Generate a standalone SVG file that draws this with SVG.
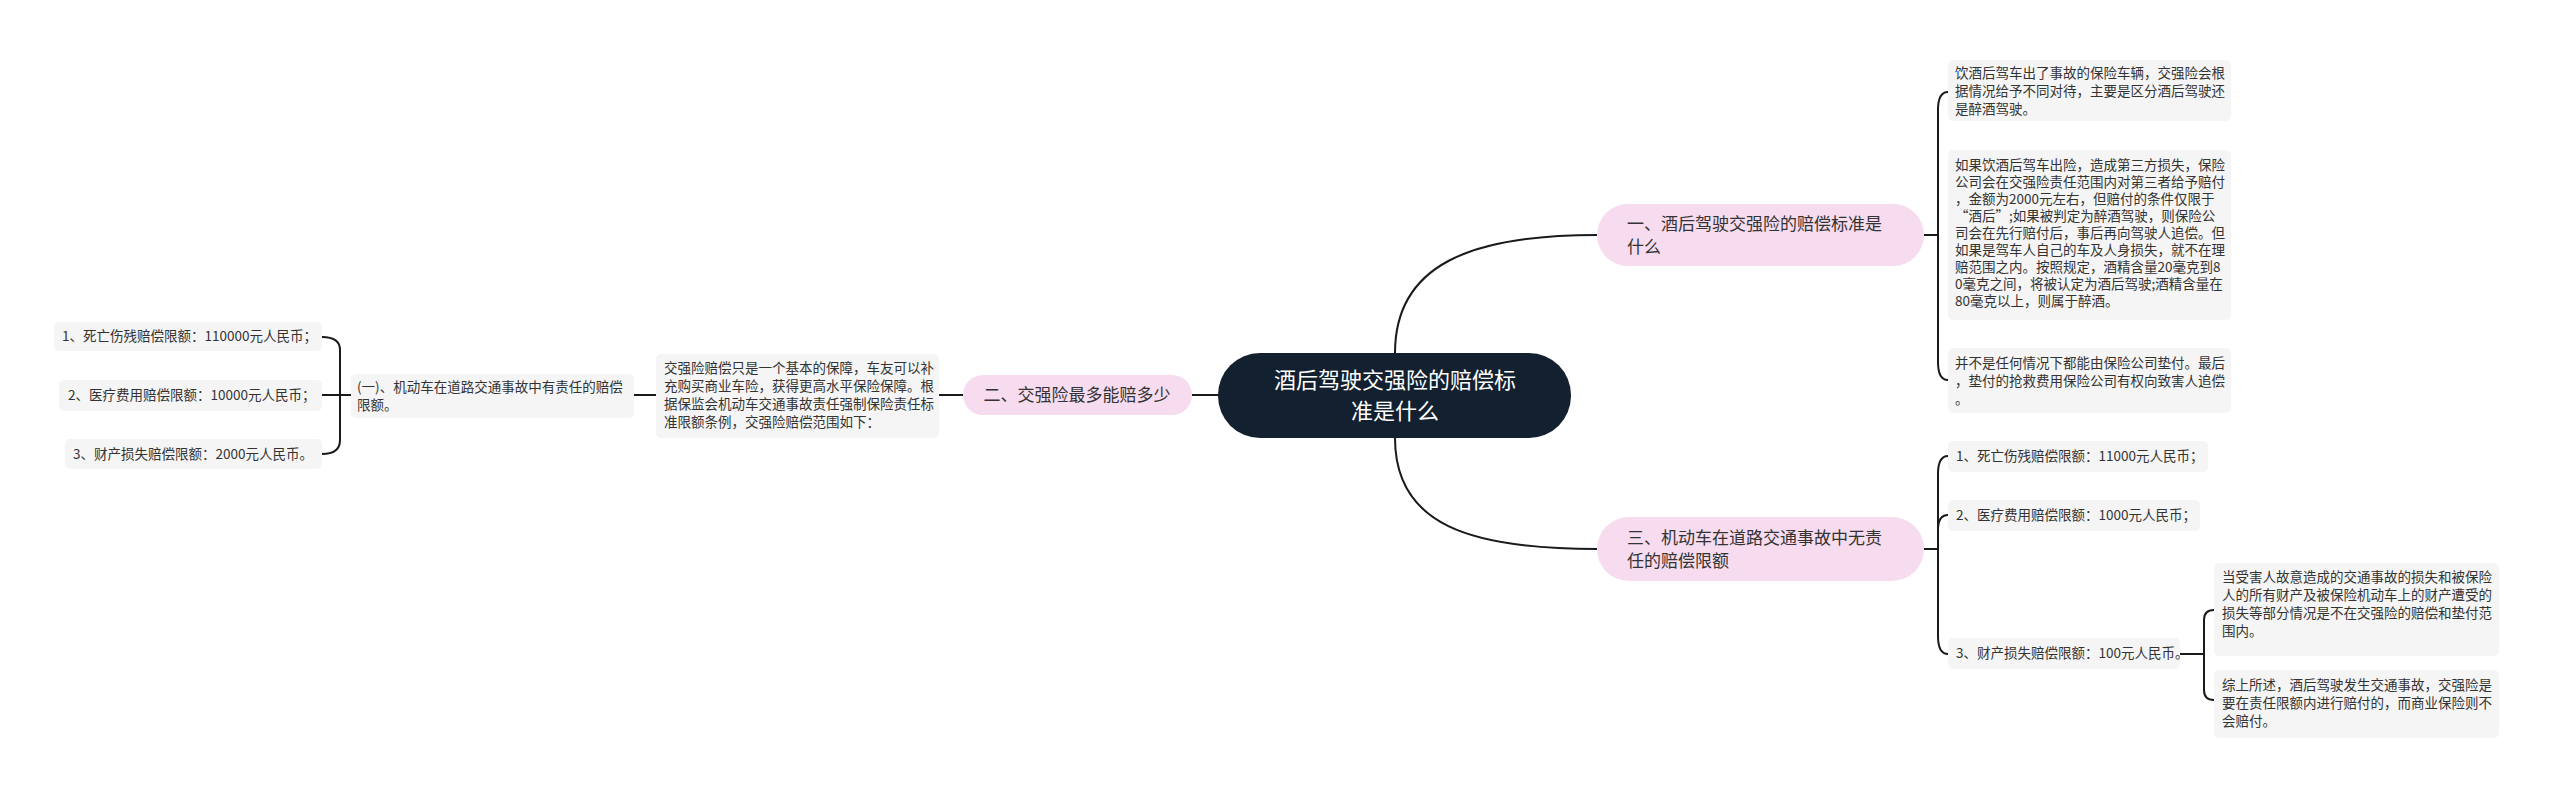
<svg xmlns="http://www.w3.org/2000/svg" width="2560" height="794" viewBox="0 0 2560 794">
<style>
text{font-family:"Noto Sans CJK SC","Liberation Sans",sans-serif;fill:#333}
.leaf{fill:#f5f5f5}
.br{fill:#f7dcef}
.t{font-size:13.5px}
.b{font-size:17px}
.c{fill:none;stroke:#1a1a1a;stroke-width:2}
</style>
<rect width="2560" height="794" fill="#fff"/>
<g id="connectors">
<path class="c" d="M1395,353 C1395,265 1470,235 1597,235"/>
<path class="c" d="M1395,438 C1395,525 1470,549 1597,549"/>
<path class="c" d="M1218,395 H1192"/>
<path class="c" d="M963,395 H939"/>
<path class="c" d="M656,395 H634"/>
<path class="c" d="M351,395 H340 M322,337 Q340,337 340,350 V440 Q340,454 322,454"/>
<path class="c" d="M322,395 H340"/>
<path class="c" d="M1924,235 H1938 M1948,92 Q1938,92 1938,110 V362 Q1938,380 1948,380"/>
<path class="c" d="M1924,549 H1938 M1948,456 Q1938,456 1938,474 V636 Q1938,654 1948,654 M1948,515 Q1938,515 1938,530"/>
<path class="c" d="M2180,654 H2204 M2214,610 Q2204,610 2204,620 V690 Q2204,700 2214,700"/>
</g>
<g id="root">
<rect x="1218" y="353" width="353" height="85" rx="42" fill="#13202f"/>
<text x="1395" y="388" text-anchor="middle" font-size="22" style="fill:#fff">酒后驾驶交强险的赔偿标</text>
<text x="1395" y="419" text-anchor="middle" font-size="22" style="fill:#fff">准是什么</text>
</g>
<g id="b1"><rect class="br" x="1597" y="204" width="327" height="62" rx="31"/>
<text class="b" x="1627" y="230">一、酒后驾驶交强险的赔偿标准是</text><text class="b" x="1627" y="253">什么</text></g>
<g id="b3"><rect class="br" x="1597" y="517" width="327" height="64" rx="32"/>
<text class="b" x="1627" y="544">三、机动车在道路交通事故中无责</text><text class="b" x="1627" y="567">任的赔偿限额</text></g>
<g id="b2"><rect class="br" x="963" y="375" width="229" height="40" rx="20"/>
<text class="b" x="1077" y="401" text-anchor="middle">二、交强险最多能赔多少</text></g>
<g id="l2"><rect class="leaf" x="656" y="354" width="283" height="84" rx="5"/>
<text class="t" x="664" y="373">交强险赔偿只是一个基本的保障，车友可以补</text>
<text class="t" x="664" y="391">充购买商业车险，获得更高水平保险保障。根</text>
<text class="t" x="664" y="409">据保监会机动车交通事故责任强制保险责任标</text>
<text class="t" x="664" y="427">准限额条例，交强险赔偿范围如下：</text></g>
<g id="l2a"><rect class="leaf" x="351" y="374" width="283" height="44" rx="5"/>
<text class="t" x="357" y="392">(一)、机动车在道路交通事故中有责任的赔偿</text>
<text class="t" x="357" y="410">限额。</text></g>
<g id="la1"><rect class="leaf" x="54" y="322" width="268" height="29" rx="5"/><text class="t" x="62" y="341">1、死亡伤残赔偿限额：110000元人民币；</text></g>
<g id="la2"><rect class="leaf" x="59" y="380" width="263" height="31" rx="5"/><text class="t" x="68" y="400">2、医疗费用赔偿限额：10000元人民币；</text></g>
<g id="la3"><rect class="leaf" x="65" y="439" width="257" height="30" rx="5"/><text class="t" x="73" y="459">3、财产损失赔偿限额：2000元人民币。</text></g>
<g id="r1"><rect class="leaf" x="1948" y="60" width="283" height="61" rx="5"/>
<text class="t" x="1955" y="78">饮酒后驾车出了事故的保险车辆，交强险会根</text>
<text class="t" x="1955" y="96">据情况给予不同对待，主要是区分酒后驾驶还</text>
<text class="t" x="1955" y="114">是醉酒驾驶。</text></g>
<g id="r2"><rect class="leaf" x="1948" y="150" width="283" height="170" rx="5"/>
<text class="t" x="1955" y="170">如果饮酒后驾车出险，造成第三方损失，保险</text>
<text class="t" x="1955" y="187">公司会在交强险责任范围内对第三者给予赔付</text>
<text class="t" x="1955" y="204">，金额为2000元左右，但赔付的条件仅限于</text>
<text class="t" x="1955" y="221">“酒后”;如果被判定为醉酒驾驶，则保险公</text>
<text class="t" x="1955" y="238">司会在先行赔付后，事后再向驾驶人追偿。但</text>
<text class="t" x="1955" y="255">如果是驾车人自己的车及人身损失，就不在理</text>
<text class="t" x="1955" y="272">赔范围之内。按照规定，酒精含量20毫克到8</text>
<text class="t" x="1955" y="289">0毫克之间，将被认定为酒后驾驶;酒精含量在</text>
<text class="t" x="1955" y="306">80毫克以上，则属于醉酒。</text></g>
<g id="r3"><rect class="leaf" x="1948" y="348" width="283" height="65" rx="5"/>
<text class="t" x="1955" y="368">并不是任何情况下都能由保险公司垫付。最后</text>
<text class="t" x="1955" y="386">，垫付的抢救费用保险公司有权向致害人追偿</text>
<text class="t" x="1955" y="404">。</text></g>
<g id="s1"><rect class="leaf" x="1948" y="441" width="260" height="31" rx="5"/><text class="t" x="1956" y="461">1、死亡伤残赔偿限额：11000元人民币；</text></g>
<g id="s2"><rect class="leaf" x="1948" y="500" width="252" height="31" rx="5"/><text class="t" x="1956" y="520">2、医疗费用赔偿限额：1000元人民币；</text></g>
<g id="s3"><rect class="leaf" x="1948" y="638" width="232" height="31" rx="5"/><text class="t" x="1956" y="658">3、财产损失赔偿限额：100元人民币。</text></g>
<g id="s3a"><rect class="leaf" x="2214" y="563" width="285" height="93" rx="5"/>
<text class="t" x="2222" y="582">当受害人故意造成的交通事故的损失和被保险</text>
<text class="t" x="2222" y="600">人的所有财产及被保险机动车上的财产遭受的</text>
<text class="t" x="2222" y="618">损失等部分情况是不在交强险的赔偿和垫付范</text>
<text class="t" x="2222" y="636">围内。</text></g>
<g id="s3b"><rect class="leaf" x="2214" y="670" width="285" height="68" rx="5"/>
<text class="t" x="2222" y="690">综上所述，酒后驾驶发生交通事故，交强险是</text>
<text class="t" x="2222" y="708">要在责任限额内进行赔付的，而商业保险则不</text>
<text class="t" x="2222" y="726">会赔付。</text></g>
</svg>
